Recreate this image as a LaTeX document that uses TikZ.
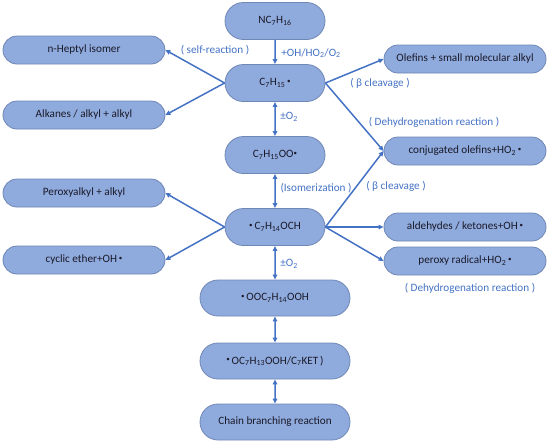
\documentclass[tikz,border=0pt]{standalone}
\usepackage{fontspec}
\setmainfont{Carlito}
\usetikzlibrary{arrows.meta,shapes.misc}
\definecolor{nodefill}{HTML}{8FAADC}
\definecolor{nodedraw}{HTML}{6F87B5}
\definecolor{linec}{HTML}{4472C4}
\definecolor{labc}{HTML}{4472C4}
\definecolor{txtc}{HTML}{1A1A2A}
\newcommand{\sub}[1]{\textsubscript{#1}}
\newcommand{\bul}{\raisebox{0.45ex}{\fontsize{7}{7}\selectfont•}}
\begin{document}
\begin{tikzpicture}[x=1pt,y=-1pt,
  pill/.style={rounded rectangle, fill=nodefill, draw=nodedraw, line width=0.8pt,
    inner sep=0pt, text=txtc, font=\fontsize{11.2}{13}\selectfont},
  mid/.style={pill, minimum width=100pt, minimum height=37pt},
  wide/.style={pill, minimum width=150pt, minimum height=36pt},
  side/.style={pill, minimum width=162pt, minimum height=28pt},
  lab/.style={text=labc, font=\fontsize{11.2}{13}\selectfont, inner sep=0pt},
  arr/.style={draw=linec, line width=1.5pt, -{Triangle[length=5pt,width=4.5pt]}},
  darr/.style={draw=linec, line width=1.5pt, {Triangle[length=5pt,width=4.5pt]}-{Triangle[length=5pt,width=4.5pt]}}
]
\useasboundingbox (0,0) rectangle (550,445);
% central column
\node[mid] (nc) at (275,21) {NC\sub{7}H\sub{16}};
\node[mid] (c15) at (275,83) {C\sub{7}H\sub{15}\,\bul};
\node[mid] (c15oo) at (275,155) {C\sub{7}H\sub{15}OO\bul};
\node[mid] (och) at (275,227) {\bul\,C\sub{7}H\sub{14}OCH};
\node[wide] (ooc) at (275,298) {\bul\,OOC\sub{7}H\sub{14}OOH};
\node[wide] (oc) at (275,361) {\bul\,OC\sub{7}H\sub{13}OOH/C\sub{7}KET\,)};
\node[wide] (chain) at (275,422) {Chain branching reaction};
% left column
\node[side] (hep) at (84,50) {n-Heptyl isomer};
\node[side] (alk) at (84,115) {Alkanes / alkyl + alkyl};
\node[side] (perox) at (84,193) {Peroxyalkyl + alkyl};
\node[side] (cyc) at (84,260) {cyclic ether+OH\,\bul};
% right column
\node[side] (olef) at (465,59) {Olefins + small molecular alkyl};
\node[side] (conj) at (465,151) {conjugated olefins+HO\sub{2}\,\bul};
\node[side] (ald) at (465,227) {aldehydes / ketones+OH\,\bul};
\node[side] (pr) at (465,261) {peroxy radical+HO\sub{2}\,\bul};
% connectors
\draw[arr] (nc) -- (c15);
\draw[darr] (c15) -- (c15oo);
\draw[darr] (c15oo) -- (och);
\draw[darr] (och) -- (ooc);
\draw[darr] (ooc) -- (oc);
\draw[darr] (oc) -- (chain);
\draw[arr] (c15.west) -- (hep.east);
\draw[arr] (c15.west) -- (alk.east);
\draw[arr] (c15.east) -- (olef.west);
\draw[arr] (c15.east) -- (conj.west);
\draw[arr] (och.west) -- (perox.east);
\draw[arr] (och.west) -- (cyc.east);
\draw[arr] (och.east) -- (conj.west);
\draw[arr] (och.east) -- (ald.west);
\draw[arr] (och.east) -- (pr.west);
% labels
\node[lab] (l1) at (215,50) {( self-reaction )};
\node[lab] (l2) at (311,53) {+OH/HO\sub{2}/O\sub{2}};
\node[lab] (l3) at (289,117) {±O\sub{2}};
\node[lab] (l4) at (380,83) {( β cleavage )};
\node[lab] (l5) at (434,122) {( Dehydrogenation reaction )};
\node[lab] (l6) at (316,188) {(Isomerization )};
\node[lab] (l7) at (396,186) {( β cleavage )};
\node[lab] (l8) at (289,264) {±O\sub{2}};
\node[lab] (l9) at (470,288) {( Dehydrogenation reaction )};
\end{tikzpicture}
\end{document}
